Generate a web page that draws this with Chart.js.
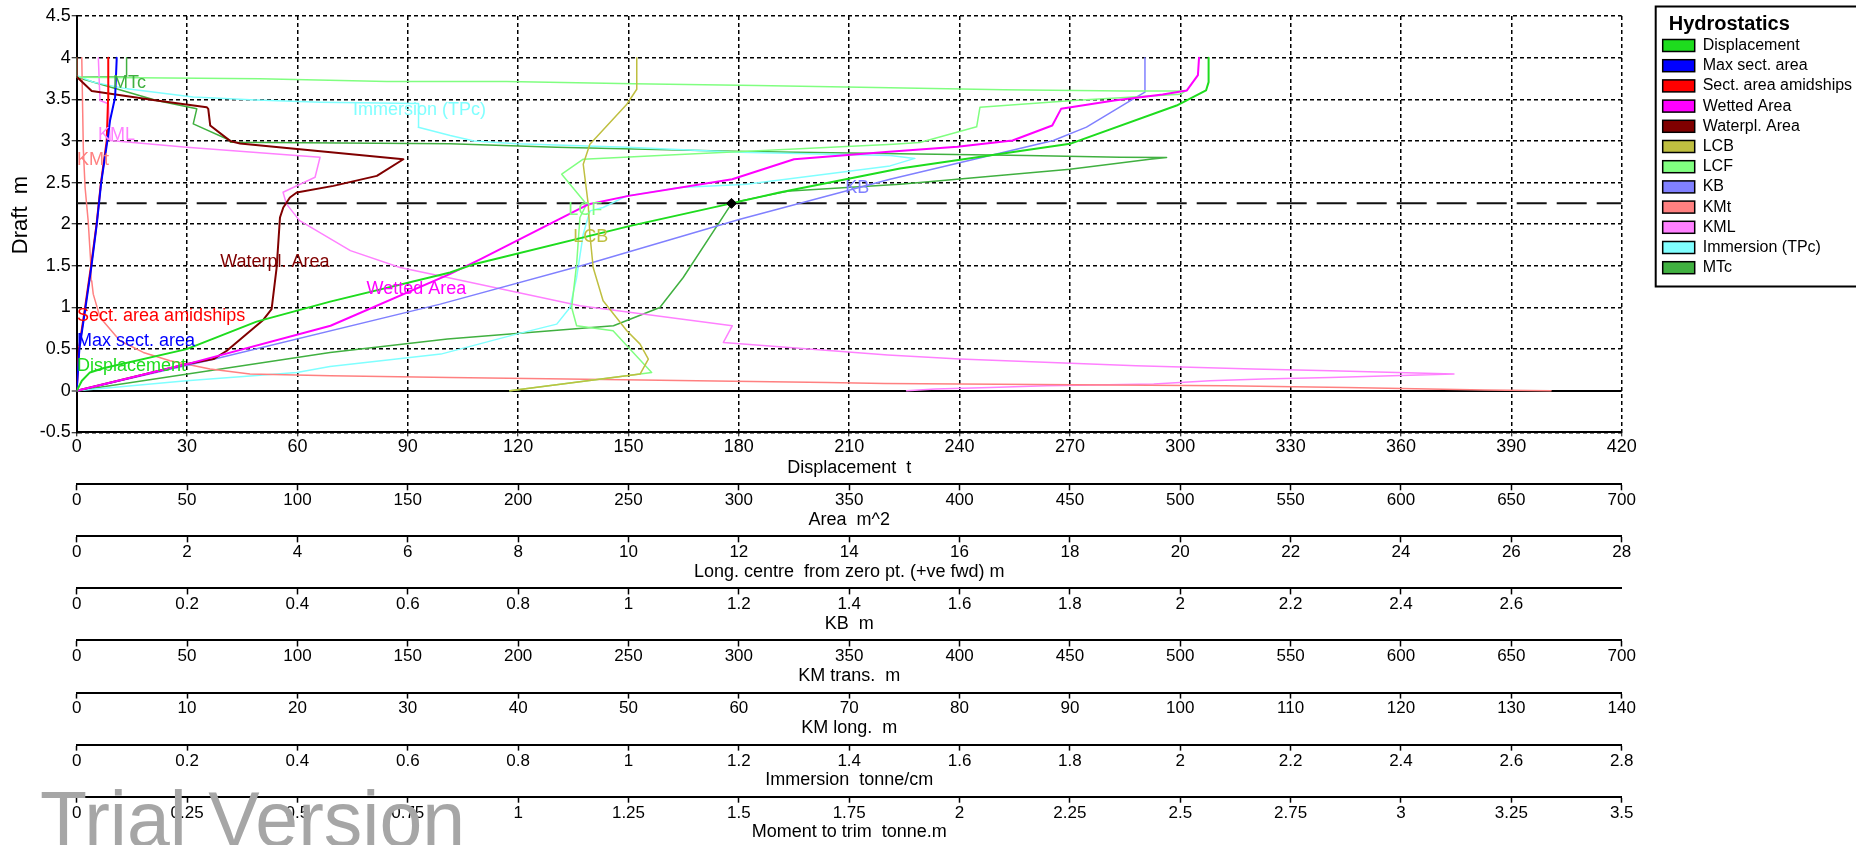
<!DOCTYPE html>
<html>
<head>
<meta charset="utf-8">
<title>Hydrostatics</title>
<script src="https://cdn.jsdelivr.net/npm/chart.js@4.4.1/dist/chart.umd.min.js"></script>
<style>
  html, body { margin: 0; padding: 0; background: #ffffff; }
  canvas { display: block; }
</style>
</head>
<body>
<canvas id="hydro" width="1856" height="845"></canvas>
<script>
// ---------------- Hydrostatic curves: draft (m) and value at that draft ----------------
const dispDraft      = [0, 0.12, 0.22, 0.27, 0.50, 0.83, 1.07, 1.42, 1.52, 1.98, 2.25, 2.38, 2.67, 2.965, 3.425, 3.606, 3.706, 4.0];
const displacementT  = [0, 1.4, 3.6, 7.2, 29.9, 48.9, 68.9, 101.5, 108, 150.5, 178, 191, 223.8, 270, 299, 307, 307.7, 307.7];

const maxSectDraft   = [0, 0.5, 1.0, 1.5, 2.0, 2.5, 3.0, 3.245, 3.525, 3.97, 4.0];
const maxSectArea    = [0, 1.2, 4.0, 6.7, 9.1, 11.1, 13.9, 15.1, 17.4, 18.1, 18.1];

const midSectDraft   = [0, 0.5, 1.0, 1.5, 2.0, 2.5, 3.0, 3.5, 4.0];
const midSectArea    = [0, 1.0, 3.8, 6.5, 9.0, 11.0, 13.6, 14.2, 14.3];

const wettedDraft    = [0, 0.32, 0.78, 1.40, 1.58, 2.24, 2.34, 2.54, 2.78, 2.87, 2.93, 3.005, 3.185, 3.385, 3.485, 3.558, 3.606, 3.79, 4.0];
const wettedArea     = [0, 50, 115, 169, 183, 232, 250, 297, 325, 368, 399, 424, 442, 446, 470, 492, 503, 508, 508.5];

const wplDraft       = [0, 0.32, 0.38, 0.48, 0.85, 0.98, 1.48, 2.08, 2.20, 2.32, 2.38, 2.46, 2.58, 2.78, 2.97, 3.0, 3.185, 3.385, 3.405, 3.485, 3.60, 3.77, 4.0];
const wplArea        = [0, 50, 62, 68, 84.5, 88.3, 90.6, 92.1, 93.6, 96.6, 99.7, 116.3, 136, 148, 74, 69.5, 60.5, 59.6, 58.9, 36.2, 6.8, 0, 0];

const lcbDraft       = [0, 0.2, 0.38, 0.56, 0.72, 1.08, 1.48, 1.88, 2.24, 2.72, 2.96, 3.44, 3.62, 4.0];
const lcbM           = [7.85, 10.21, 10.36, 10.21, 9.97, 9.54, 9.36, 9.30, 9.27, 9.18, 9.30, 9.97, 10.15, 10.15];

const lcfDraft       = [0, 0.22, 0.72, 0.78, 1.0, 1.52, 2.08, 2.24, 2.6, 2.78, 2.836, 2.96, 2.98, 3.17, 3.405, 3.485, 3.56, 3.60, 3.598, 3.614, 3.638, 3.666, 3.686, 3.714, 3.714, 3.745, 3.765, 4.0];
const lcfM           = [7.85, 10.42, 9.72, 9.06, 8.97, 9.06, 9.12, 9.24, 8.79, 9.18, 10.93, 14.8, 15.28, 16.31, 16.37, 18.06, 20.0, 20.1, 19.0, 16.8, 14.74, 12.32, 10.09, 7.79, 5.62, 3.32, 0, 0];

const kbDraft        = [0, 0.38, 1.04, 1.52, 2.06, 2.54, 3.005, 3.165, 3.505, 3.585, 4.0];
const kbM            = [0, 0.25, 0.659, 0.924, 1.202, 1.474, 1.77, 1.83, 1.915, 1.936, 1.936];

const kmtDraft       = [0, 0.01, 0.04, 0.06, 0.088, 0.10, 0.12, 0.14, 0.16, 0.18, 0.20, 0.26, 0.36, 0.46, 0.60, 0.88, 1.16, 1.32, 1.48, 2.04, 2.44, 2.9, 4.0];
const kmtM           = [668, 638, 575, 520, 366, 340, 281, 222, 169, 115, 78.5, 60.4, 42.3, 30.2, 19.6, 10.6, 7.5, 6.8, 6.5, 5.2, 3.8, 3.0, 2.3];

const kmlDraft       = [0, 0.02, 0.04, 0.06, 0.08, 0.12, 0.14, 0.16, 0.20, 0.24, 0.26, 0.30, 0.38, 0.43, 0.58, 0.78, 1.02, 1.362, 1.48, 1.683, 2.043, 2.244, 2.384, 2.564, 2.804, 2.825, 2.924, 3.005, 3.446, 3.486, 4.0];
const kmlM           = [75.2, 77.8, 82.8, 87.9, 97.6, 102.7, 107.5, 113.6, 124.8, 113.6, 106.6, 96, 80, 73.5, 58.6, 59.4, 45.6, 33.5, 29.3, 24.8, 20.2, 19.0, 18.7, 21.6, 22.05, 19.9, 9.97, 3.02, 2.87, 2.11, 1.96];

const tpcDraft       = [0, 0.12, 0.22, 0.29, 0.44, 0.68, 0.80, 1.0, 1.36, 1.88, 2.16, 2.20, 2.34, 2.44, 2.48, 2.70, 2.79, 2.825, 2.865, 2.924, 2.965, 3.0, 3.065, 3.165, 3.225, 3.45, 3.465, 3.494, 3.526, 3.625, 3.706, 3.786, 4.0];
const tpcT           = [0, 0.199, 0.399, 0.459, 0.66, 0.797, 0.87, 0.894, 0.906, 0.918, 0.930, 0.954, 0.997, 1.093, 1.214, 1.474, 1.519, 1.474, 1.202, 0.997, 0.797, 0.72, 0.677, 0.619, 0.619, 0.62, 0.441, 0.314, 0.211, 0.091, 0.030, 0, 0];

const mtcDraft       = [0, 0.46, 0.62, 0.78, 1.0, 1.36, 2.236, 2.28, 2.40, 2.48, 2.54, 2.66, 2.78, 2.80, 2.804, 2.825, 2.845, 2.873, 2.924, 2.965, 2.984, 3.005, 3.205, 3.385, 3.485, 3.765, 3.77, 4.0];
const mtcTm          = [0, 0.574, 0.84, 1.216, 1.321, 1.374, 1.482, 1.503, 1.616, 1.865, 1.994, 2.25, 2.431, 2.469, 2.364, 2.152, 1.865, 1.514, 1.087, 0.846, 0.348, 0.348, 0.264, 0.272, 0.181, 0, 0.113, 0.113];

// Design waterline and the displacement at that draft
const designDraft = 2.25;
const designDisplacement = 178;

// ---------------- Axis tick values ----------------
const draftTicks        = [-0.5, 0, 0.5, 1, 1.5, 2, 2.5, 3, 3.5, 4, 4.5];
const displacementTicks = [0, 30, 60, 90, 120, 150, 180, 210, 240, 270, 300, 330, 360, 390, 420];
const areaTicks         = [0, 50, 100, 150, 200, 250, 300, 350, 400, 450, 500, 550, 600, 650, 700];
const longCentreTicks   = [0, 2, 4, 6, 8, 10, 12, 14, 16, 18, 20, 22, 24, 26, 28];
const kbTicks           = [0, 0.2, 0.4, 0.6, 0.8, 1, 1.2, 1.4, 1.6, 1.8, 2, 2.2, 2.4, 2.6];
const kmTransTicks      = [0, 50, 100, 150, 200, 250, 300, 350, 400, 450, 500, 550, 600, 650, 700];
const kmLongTicks       = [0, 10, 20, 30, 40, 50, 60, 70, 80, 90, 100, 110, 120, 130, 140];
const immersionTicks    = [0, 0.2, 0.4, 0.6, 0.8, 1, 1.2, 1.4, 1.6, 1.8, 2, 2.2, 2.4, 2.6, 2.8];
const trimMomentTicks   = [0, 0.25, 0.5, 0.75, 1, 1.25, 1.5, 1.75, 2, 2.25, 2.5, 2.75, 3, 3.25, 3.5];

// ---------------- Styling ----------------
const FONT = '"Liberation Sans", Arial, Helvetica, sans-serif';
Chart.defaults.font.family = FONT;
Chart.defaults.color = '#000';

const COLORS = {
  displacement: '#1edc1e', maxSect: '#0000ff', midSect: '#ff0000', wetted: '#ff00ff',
  wpl: '#800000', lcb: '#bfbf40', lcf: '#80ff80', kb: '#8080ff', kmt: '#ff8080',
  kml: '#ff80ff', tpc: '#80ffff', mtc: '#40b040'
};

const legendTitle = 'Hydrostatics';

const toPoints = (draft, vals) => draft.map((d, i) => ({ x: vals[i], y: d }));

function curve(label, color, axisId, draft, vals, width) {
  return {
    label, inLegend: true,
    data: toPoints(draft, vals),
    xAxisID: axisId, yAxisID: 'y',
    showLine: true, borderColor: color, backgroundColor: color,
    borderWidth: width, pointRadius: 0, pointHoverRadius: 0,
    borderJoinStyle: 'round', borderCapStyle: 'round', tension: 0
  };
}

const datasets = [
  {
    label: 'design point',
    data: [{ x: designDisplacement, y: designDraft }],
    xAxisID: 'xDisp', yAxisID: 'y', showLine: false,
    pointStyle: 'rectRot', pointRadius: 5, backgroundColor: '#000', borderColor: '#000', borderWidth: 1
  },
  curve('Displacement',         COLORS.displacement, 'xDisp', dispDraft,    displacementT, 2),
  curve('Max sect. area',       COLORS.maxSect,      'xArea', maxSectDraft, maxSectArea,   2),
  curve('Sect. area amidships', COLORS.midSect,      'xArea', midSectDraft, midSectArea,   2),
  curve('Wetted Area',          COLORS.wetted,       'xArea', wettedDraft,  wettedArea,    2),
  curve('Waterpl. Area',        COLORS.wpl,          'xArea', wplDraft,     wplArea,       2),
  curve('LCB',                  COLORS.lcb,          'xLong', lcbDraft,     lcbM,          1.5),
  curve('LCF',                  COLORS.lcf,          'xLong', lcfDraft,     lcfM,          1.5),
  curve('KB',                   COLORS.kb,           'xKB',   kbDraft,      kbM,           1.5),
  curve('KMt',                  COLORS.kmt,          'xKMt',  kmtDraft,     kmtM,          1.5),
  curve('KML',                  COLORS.kml,          'xKML',  kmlDraft,     kmlM,          1.5),
  curve('Immersion (TPc)',      COLORS.tpc,          'xTPc',  tpcDraft,     tpcT,          1.5),
  curve('MTc',                  COLORS.mtc,          'xMTc',  mtcDraft,     mtcTm,         1.5),
  {
    label: 'design waterline',
    data: [{ x: 0, y: designDraft }, { x: 420, y: designDraft }],
    xAxisID: 'xDisp', yAxisID: 'y', showLine: true,
    borderColor: '#111', borderWidth: 2, borderDash: [30, 10], pointRadius: 0
  }
];

// Curve name tags, anchored in displacement / draft units
const curveTags = [
  { text: 'MTc',                  x: 9.9,   y: 3.69,  color: COLORS.mtc },
  { text: 'Immersion (TPc)',      x: 75.1,  y: 3.365, color: COLORS.tpc },
  { text: 'KML',                  x: 5.8,   y: 3.065, color: COLORS.kml },
  { text: 'KMt',                  x: 0.1,   y: 2.765, color: COLORS.kmt },
  { text: 'Waterpl. Area',        x: 39.0,  y: 1.54,  color: COLORS.wpl },
  { text: 'Wetted Area',          x: 78.8,  y: 1.22,  color: COLORS.wetted },
  { text: 'Sect. area amidships', x: 0.1,   y: 0.90,  color: COLORS.midSect },
  { text: 'Max sect. area',       x: 0.1,   y: 0.60,  color: COLORS.maxSect },
  { text: 'Displacement',         x: 0.1,   y: 0.30,  color: COLORS.displacement },
  { text: 'LCF',                  x: 133.6, y: 2.165, color: COLORS.lcf },
  { text: 'LCB',                  x: 135.0, y: 1.84,  color: COLORS.lcb },
  { text: 'KB',                   x: 208.9, y: 2.44,  color: COLORS.kb }
];

// ---------------- Axes ----------------
const fmt = v => String(Math.round(v * 1000) / 1000);
const plotLeft = 76.7;
const mainAxisHeight = 51.9;
const axisBand = 52.07;
const lastAxisHeight = 48.3;

function lowerAxis(weight, min, max, tickValues, title, height, padBottom) {
  return {
    type: 'linear', position: 'bottom', weight, min, max,
    afterBuildTicks: s => { s.ticks = tickValues.map(v => ({ value: v })); },
    afterFit: s => { s.height = height; },
    ticks: { font: { size: 17 }, padding: 0, callback: fmt, autoSkip: false, maxRotation: 0, color: '#000' },
    grid: { drawOnChartArea: false, drawTicks: true, tickLength: 6, tickColor: '#000', tickWidth: 1.5, color: '#000' },
    border: { display: true, color: '#000', width: 2 },
    title: { display: true, text: title, font: { size: 18 }, color: '#000', padding: { top: 0, bottom: padBottom } }
  };
}

const scales = {
  y: {
    type: 'linear', position: 'left', min: -0.5, max: 4.5,
    afterBuildTicks: s => { s.ticks = draftTicks.map(v => ({ value: v })); },
    afterFit: s => { s.width = plotLeft; },
    ticks: { font: { size: 18 }, padding: 1, callback: fmt, color: '#000' },
    grid: {
      color: '#000',
      lineWidth: c => (c.tick && c.tick.value === 0) ? 2 : 1.5,
      drawTicks: true, tickLength: 5, tickColor: '#000', tickWidth: 1
    },
    border: { display: true, color: '#000', width: 2, dash: c => (c.tick && c.tick.value === 0) ? [] : [4, 3] },
    title: { display: true, text: '   Draft  m', font: { size: 22 }, color: '#000', padding: { top: 7.5, bottom: 0 } }
  },
  xDisp: {
    type: 'linear', position: 'bottom', weight: 0, min: 0, max: 420,
    afterBuildTicks: s => { s.ticks = displacementTicks.map(v => ({ value: v })); },
    afterFit: s => { s.height = mainAxisHeight; },
    ticks: { font: { size: 18 }, padding: 0, callback: fmt, autoSkip: false, maxRotation: 0, color: '#000' },
    grid: { color: '#000', lineWidth: 1.5, drawTicks: true, tickLength: 4, tickColor: '#000', tickWidth: 1 },
    border: { display: true, color: '#000', width: 2, dash: [4, 3] },
    title: { display: true, text: 'Displacement  t', font: { size: 18 }, color: '#000', padding: { top: 0, bottom: 5.5 } }
  },
  xArea: lowerAxis(1, 0, 700, areaTicks, 'Area  m^2', axisBand, 5.5),
  xLong: lowerAxis(2, 0, 28, longCentreTicks, 'Long. centre  from zero pt. (+ve fwd) m', axisBand, 5.5),
  xKB:   lowerAxis(3, 0, 2.8, kbTicks, 'KB  m', axisBand, 5.5),
  xKMt:  lowerAxis(4, 0, 700, kmTransTicks, 'KM trans.  m', axisBand, 5.5),
  xKML:  lowerAxis(5, 0, 140, kmLongTicks, 'KM long.  m', axisBand, 5.5),
  xTPc:  lowerAxis(6, 0, 2.8, immersionTicks, 'Immersion  tonne/cm', axisBand, 5.5),
  xMTc:  lowerAxis(7, 0, 3.5, trimMomentTicks, 'Moment to trim  tonne.m', lastAxisHeight, 2.5)
};

// ---------------- Plugins ----------------
const curveTagPlugin = {
  id: 'curveTags',
  afterDatasetsDraw(chart) {
    const { ctx, scales: sc } = chart;
    ctx.save();
    ctx.font = '18px ' + FONT;
    ctx.textAlign = 'left';
    ctx.textBaseline = 'middle';
    curveTags.forEach(t => {
      ctx.fillStyle = t.color;
      ctx.fillText(t.text, sc.xDisp.getPixelForValue(t.x), sc.y.getPixelForValue(t.y));
    });
    ctx.restore();
  }
};

const legendPlugin = {
  id: 'hydroLegend',
  afterDraw(chart) {
    const { ctx, chartArea } = chart;
    const left = chartArea.right + 34;
    const top = 6.5;
    const items = chart.data.datasets.filter(d => d.inLegend);
    ctx.save();
    ctx.fillStyle = '#fff';
    ctx.fillRect(left, top, chart.width - left + 10, 280);
    ctx.lineWidth = 2;
    ctx.strokeStyle = '#000';
    ctx.strokeRect(left, top, chart.width - left + 10, 280);
    ctx.textAlign = 'left';
    ctx.textBaseline = 'middle';
    ctx.fillStyle = '#000';
    ctx.font = 'bold 20px ' + FONT;
    ctx.fillText(legendTitle, left + 13, 24.5);
    ctx.font = '16px ' + FONT;
    items.forEach((d, i) => {
      const cy = 45.5 + i * 20.2;
      ctx.fillStyle = d.borderColor;
      ctx.fillRect(left + 7, cy - 6, 32, 12);
      ctx.lineWidth = 1.5;
      ctx.strokeStyle = '#000';
      ctx.strokeRect(left + 7, cy - 6, 32, 12);
      ctx.fillStyle = '#000';
      ctx.fillText(d.label, left + 47, cy);
    });
    ctx.restore();
  }
};

const watermarkPlugin = {
  id: 'watermark',
  afterDraw(chart) {
    const ctx = chart.ctx;
    ctx.save();
    ctx.font = '77px ' + FONT;
    ctx.fillStyle = '#a6a6a6';
    ctx.textAlign = 'left';
    ctx.textBaseline = 'alphabetic';
    ctx.fillText('Trial Version', 40, 846);
    ctx.restore();
  }
};

new Chart(document.getElementById('hydro'), {
  type: 'scatter',
  data: { datasets },
  options: {
    responsive: false,
    animation: false,
    devicePixelRatio: 1,
    events: [],
    layout: { padding: { left: 0, right: 234.3, top: 16, bottom: 0 } },
    plugins: { legend: { display: false }, tooltip: { enabled: false } },
    scales
  },
  plugins: [curveTagPlugin, legendPlugin, watermarkPlugin]
});
</script>
</body>
</html>
